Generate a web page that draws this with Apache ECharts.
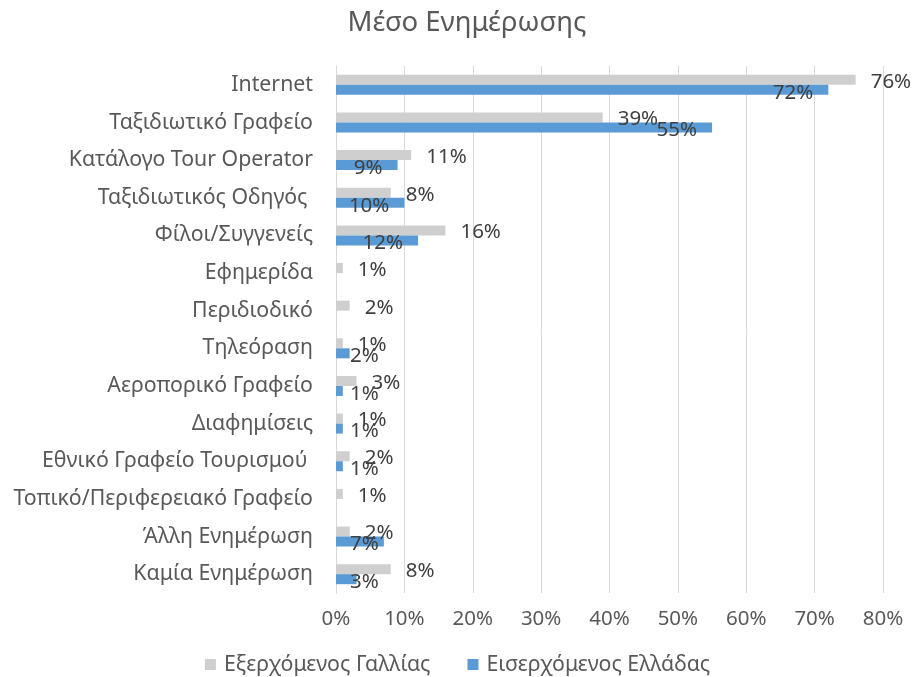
<!DOCTYPE html>
<html>
<head>
<meta charset="utf-8">
<script src="https://cdn.jsdelivr.net/npm/echarts@6/dist/echarts.min.js"></script>
<style>html,body{margin:0;padding:0;background:#fff}#c{width:915px;height:677px}</style>
</head>
<body>
<div id="c"></div>
<script>
var categories = ["Internet","Ταξιδιωτικό Γραφείο","Κατάλογο Tour Operator","Ταξιδιωτικός Οδηγός ","Φίλοι/Συγγενείς","Εφημερίδα","Περιδιοδικό","Τηλεόραση","Αεροπορικό Γραφείο","Διαφημίσεις","Εθνικό Γραφείο Τουρισμού ","Τοπικό/Περιφερειακό Γραφείο","Άλλη Ενημέρωση","Καμία Ενημέρωση"];
var franceOut = [76,39,11,8,16,1,2,1,3,1,2,1,2,8];
var greeceIn = [72,55,9,10,12,null,null,2,1,1,1,null,7,3];
var xTicks = ["0%","10%","20%","30%","40%","50%","60%","70%","80%"];
var seriesNames = ["Εξερχόμενος Γαλλίας","Εισερχόμενος Ελλάδας"];

var FONT = "'Noto Sans', 'Open Sans', sans-serif";
var labelColor = "#404040";
var axisColor = "#595959";

var blueData = greeceIn.map(function(v){
  if (v == null) return v;
  var lbl = v >= 8
    ? {position:'insideRight', distance:15}
    : {position:'insideLeft', distance:14};
  return {value:v, label:lbl};
});

var chart = echarts.init(document.getElementById('c'), null, {renderer:'canvas'});
chart.setOption({
  animation:false,
  title:{text:"Μέσο Ενημέρωσης", left:462, textAlign:'center', top:4,
    textStyle:{fontFamily:FONT, fontSize:27.5, fontWeight:'normal', color:axisColor}},
  legend:{top:649, left:'center', itemWidth:11, itemHeight:11, itemGap:37,
    icon:'rect', data:seriesNames,
    textStyle:{fontFamily:FONT, fontSize:21.3, color:axisColor, padding:[0,0,0,3]}},
  grid:{left:336, right:32, top:66, bottom:84, containLabel:false},
  xAxis:{type:'value', min:0, max:80, interval:10,
    axisLine:{show:false}, axisTick:{show:false},
    splitLine:{lineStyle:{color:'#D9D9D9', width:1}},
    axisLabel:{formatter:function(v){return xTicks[v/10];}, fontFamily:FONT, fontSize:20.5, color:axisColor, margin:16}},
  yAxis:{type:'category', data:categories, inverse:true,
    axisLine:{lineStyle:{color:'#D9D9D9'}}, axisTick:{show:false},
    axisLabel:{fontFamily:FONT, fontSize:21.3, color:axisColor, margin:23}},
  series:[
    {name:seriesNames[0], type:'bar', data:franceOut, barWidth:10, barGap:'0%',
     itemStyle:{color:'#D0CFD0'},
     label:{show:true, position:'right', distance:15, offset:[0,2], formatter:'{c}%',
       fontFamily:FONT, fontSize:20.5, color:labelColor}},
    {name:seriesNames[1], type:'bar', data:blueData, barWidth:10, barGap:'0%',
     itemStyle:{color:'#5B9BD5'},
     label:{show:true, offset:[0,3], formatter:'{c}%',
       fontFamily:FONT, fontSize:20.5, color:labelColor}}
  ]
});
</script>
</body>
</html>
